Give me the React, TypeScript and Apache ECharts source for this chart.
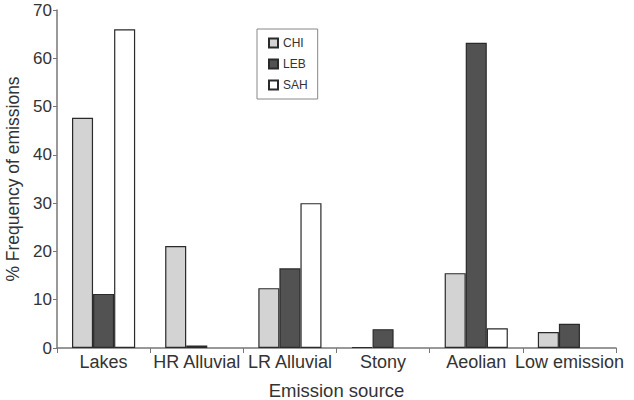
import React, { useEffect, useRef } from "react";
import * as echarts from "echarts";

const categories = ["Lakes", "HR Alluvial", "LR Alluvial", "Stony", "Aeolian", "Low emission"];
const chi = [47.7, 21.1, 12.4, 0.2, 15.5, 3.3];
const leb = [11.2, 0.5, 16.5, 3.9, 63.2, 5.0];
const sah = [66.0, 0, 30.0, 0, 4.1, 0];
const yTicks = { min: 0, max: 70, interval: 10 };

export default function App() {
  const ref = useRef<HTMLDivElement>(null);
  useEffect(() => {
    const chart = echarts.init(ref.current!, null, { renderer: "svg" });
    const font = "Liberation Sans, Arial, sans-serif";
    const mk = (name: string, data: number[], color: string) => ({
      name,
      type: "bar",
      data: data.map((v) => (v === 0 ? "-" : v)),
      barWidth: "22.6%",
      barGap: "0%",
      itemStyle: { color, borderColor: "#2a2a2a", borderWidth: 1.2 },
    });
    chart.setOption({
      animation: false,
      backgroundColor: "#fff",
      textStyle: { fontFamily: font },
      grid: { left: 57, right: 18, top: 10, bottom: 52, containLabel: false, outerBoundsMode: "none" },
      legend: {
        orient: "vertical",
        left: 257,
        top: 29,
        padding: [8, 10, 8, 11],
        itemGap: 9,
        itemWidth: 9,
        itemHeight: 9,
        borderColor: "#888",
        borderWidth: 1,
        icon: "rect",
        textStyle: { fontSize: 12, color: "#333", fontFamily: font },
        data: ["CHI", "LEB", "SAH"],
      },
      xAxis: {
        type: "category",
        data: categories,
        name: "Emission source",
        nameLocation: "middle",
        nameGap: 33,
        nameTextStyle: { fontSize: 18.5, color: "#333", fontFamily: font },
        axisLine: { lineStyle: { color: "#777", width: 1.5 } },
        axisTick: { show: true, length: 5, lineStyle: { color: "#777" } },
        axisLabel: { fontSize: 18, color: "#333", margin: 5, interval: 0, fontFamily: font },
      },
      yAxis: {
        type: "value",
        min: yTicks.min,
        max: yTicks.max,
        interval: yTicks.interval,
        name: "% Frequency of emissions",
        nameLocation: "middle",
        nameGap: 34,
        nameTextStyle: { fontSize: 17.5, color: "#333", fontFamily: font },
        splitLine: { show: false },
        axisLine: { show: true, lineStyle: { color: "#777", width: 1.5 } },
        axisTick: { show: true, length: 4, lineStyle: { color: "#777" } },
        axisLabel: { fontSize: 17, color: "#333", margin: 5, fontFamily: font },
      },
      series: [mk("CHI", chi, "#d3d3d3"), mk("LEB", leb, "#525252"), mk("SAH", sah, "#ffffff")],
    });
    return () => chart.dispose();
  }, []);
  return <div ref={ref} style={{ width: 634, height: 400, position: "absolute", left: 0, top: 0 }} />;
}
